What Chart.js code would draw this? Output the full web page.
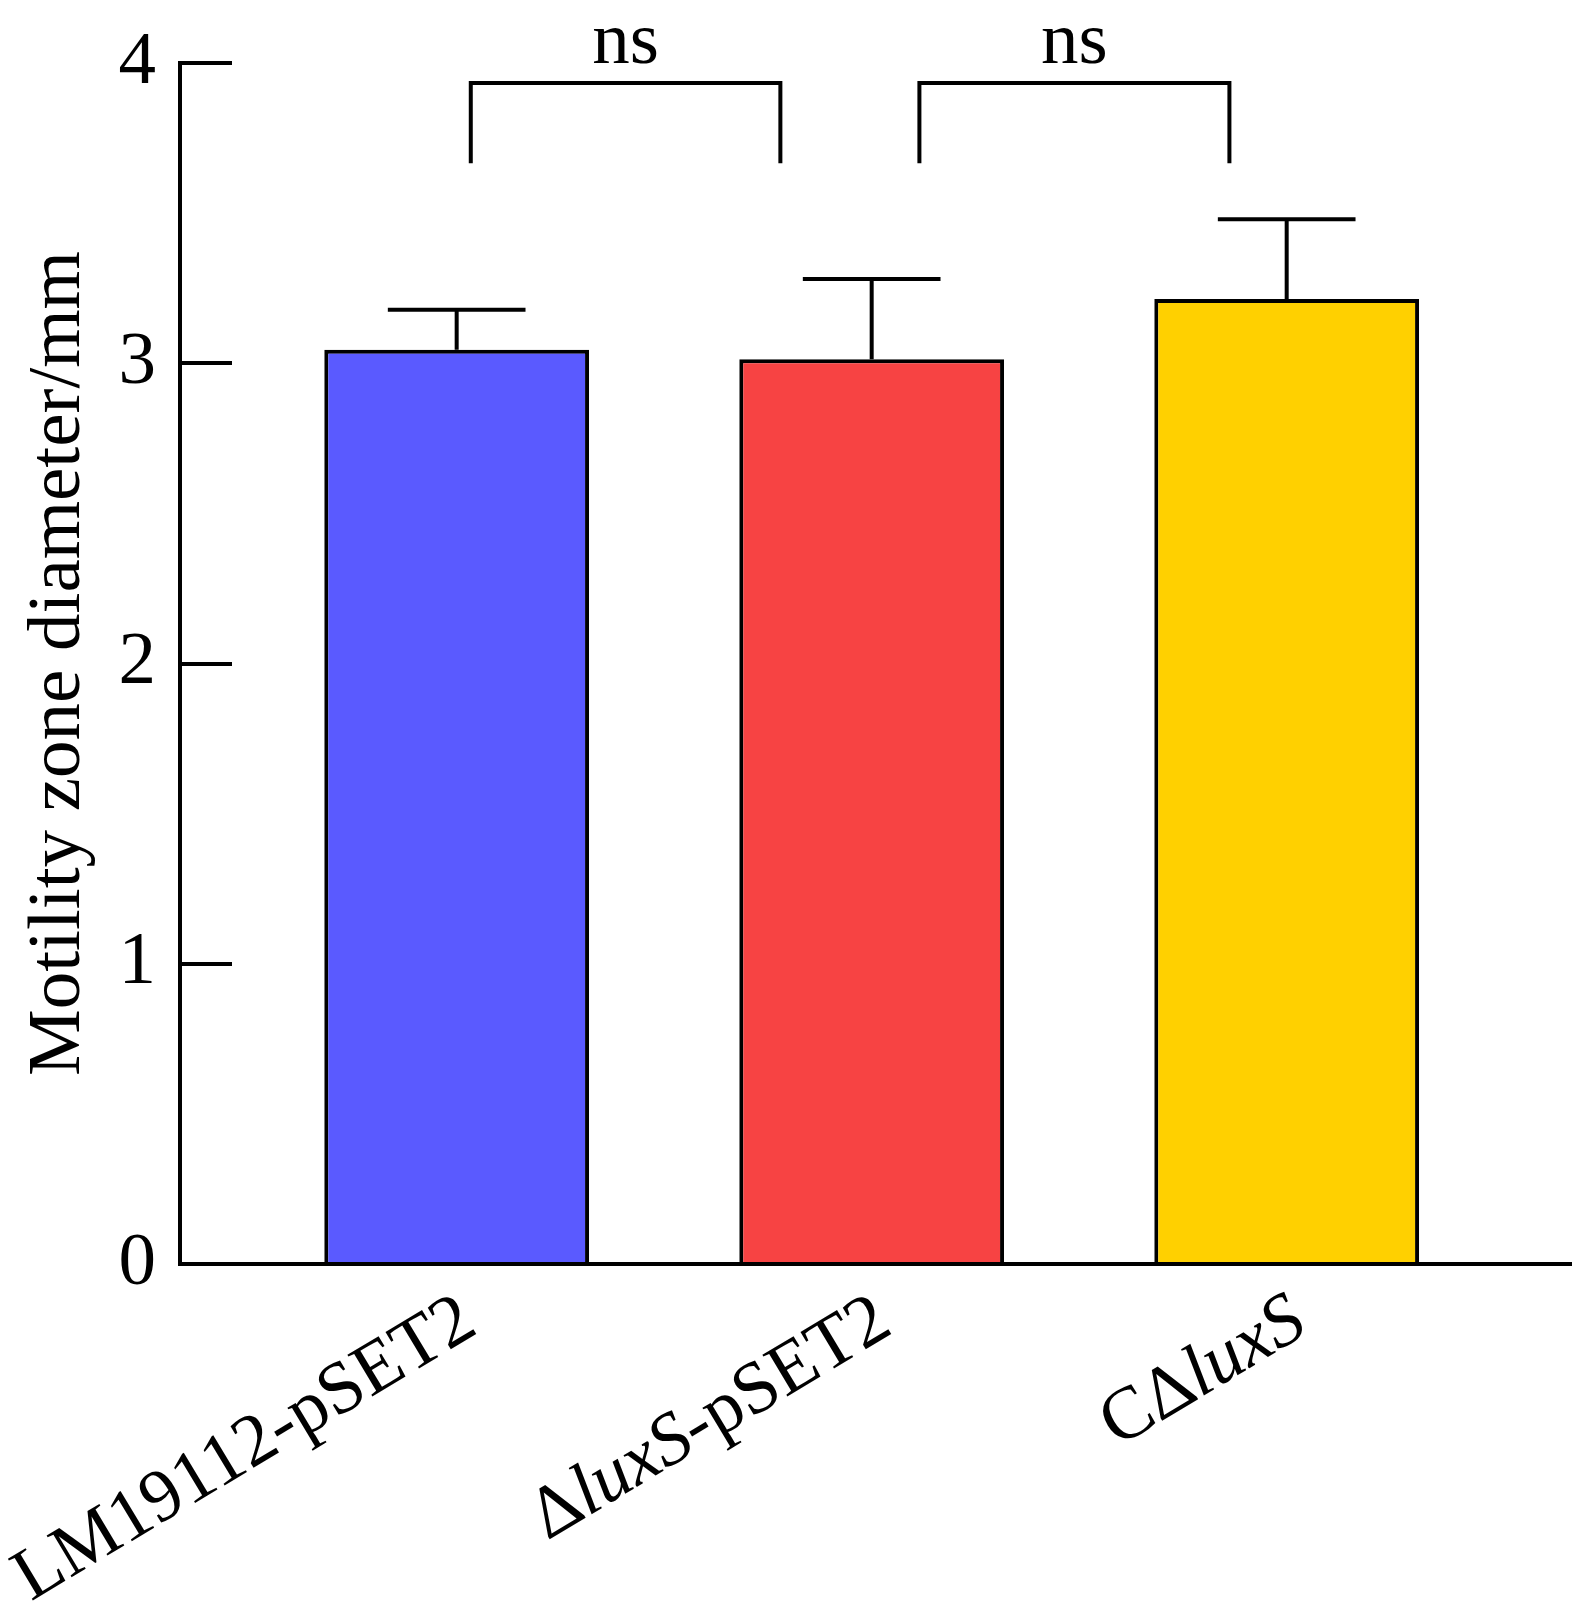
<!DOCTYPE html>
<html>
<head>
<meta charset="utf-8">
<script src="https://cdn.jsdelivr.net/npm/chart.js@4.4.1/dist/chart.umd.min.js"></script>
<style>
    html, body { margin: 0; padding: 0; background: #fff; }
    #wrapper { width: 1572px; height: 1624px; position: relative; }
</style>
</head>
<body>
<div id="wrapper"><canvas id="grafico"></canvas></div>
<script>
"use strict";
// dati
const categories = ["LM19112-pSET2", "ΔluxS-pSET2", "CΔluxS"];
const italicWords = ["luxS"];
const means = [3.045, 3.013, 3.214];
const sd = [0.133, 0.268, 0.266];
const barColors = ["#5A5AFF", "#F74343", "#FFD000"];
const yTitle = "Motility zone diameter/mm";
// parentesi di significativita' (in unita' dell'asse x)
const bracketFrom = [1.034, 2.115];
const bracketTo = [1.780, 2.862];
const bracketText = ["ns", "ns"];
const bracketTop = 3.933;
const bracketLeg = 3.666;

const FONT = "'Liberation Serif', 'Times New Roman', serif";

function splitItalic(label) {
    let re = new RegExp("(" + italicWords.join("|") + ")");
    return label.split(re).filter(s => s.length > 0).map(s => ({ t: s, it: italicWords.includes(s) }));
}

const extras = {
    id: "extras",
    afterDraw(chart) {
        const ctx = chart.ctx;
        const xs = chart.scales.x;
        const ys = chart.scales.y;
        const meta = chart.getDatasetMeta(0);
        ctx.save();
        ctx.strokeStyle = "#000";
        ctx.fillStyle = "#000";
        ctx.lineWidth = 4;
        // barre di errore
        meta.data.forEach(function(bar, i) {
            let top = ys.getPixelForValue(means[i] + sd[i]);
            let half = bar.width * 0.26;
            ctx.beginPath();
            ctx.moveTo(bar.x, bar.y);
            ctx.lineTo(bar.x, top);
            ctx.moveTo(bar.x - half, top);
            ctx.lineTo(bar.x + half, top);
            ctx.stroke();
        });
        // parentesi + "ns"
        for (let k = 0; k < bracketFrom.length; k++) {
            let x1 = xs.getPixelForValue(bracketFrom[k]);
            let x2 = xs.getPixelForValue(bracketTo[k]);
            let yT = ys.getPixelForValue(bracketTop);
            let yL = ys.getPixelForValue(bracketLeg);
            ctx.beginPath();
            ctx.moveTo(x1, yL);
            ctx.lineTo(x1, yT);
            ctx.lineTo(x2, yT);
            ctx.lineTo(x2, yL);
            ctx.stroke();
            ctx.font = "75px " + FONT;
            ctx.textAlign = "center";
            ctx.textBaseline = "alphabetic";
            ctx.fillText(bracketText[k], (x1 + x2) / 2, yT - 20);
        }
        // etichette asse x ruotate (luxS in corsivo)
        categories.forEach(function(lab, i) {
            let cx = xs.getPixelForValue(i + 1);
            ctx.save();
            ctx.translate(cx + 23, xs.top + 68);
            ctx.rotate(-31 * Math.PI / 180);
            let parts = splitItalic(lab);
            let total = 0;
            parts.forEach(function(p) {
                ctx.font = (p.it ? "italic " : "") + "74px " + FONT;
                p.w = ctx.measureText(p.t).width;
                total += p.w;
            });
            let x = -total;
            ctx.textAlign = "left";
            ctx.textBaseline = "alphabetic";
            parts.forEach(function(p) {
                ctx.font = (p.it ? "italic " : "") + "74px " + FONT;
                ctx.fillText(p.t, x, 0);
                x += p.w;
            });
            ctx.restore();
        });
        ctx.restore();
    }
};

let chart = new Chart(document.getElementById("grafico"), {
    type: "bar",
    data: {
        datasets: [{
            data: means.map((m, i) => ({ x: i + 1, y: m })),
            backgroundColor: barColors,
            borderColor: "#000",
            borderWidth: 4,
            categoryPercentage: 1,
            barPercentage: 0.638
        }]
    },
    options: {
        responsive: true,
        maintainAspectRatio: false,
        devicePixelRatio: 1,
        animation: false,
        layout: { padding: { top: 63, left: 0, right: 0, bottom: 0 }, autoPadding: false },
        plugins: { legend: { display: false }, tooltip: { enabled: false } },
        scales: {
            x: {
                type: "linear",
                min: 1 / 3,
                max: 3.6875,
                offset: false,
                grid: { display: false },
                ticks: { display: false },
                border: { display: true, color: "#000", width: 4 },
                // solo un tick per categoria (serve anche per la larghezza delle barre)
                afterBuildTicks: function(s) {
                    s.ticks = categories.map((c, i) => ({ value: i + 1 }));
                },
                afterFit: function(s) {
                    s.height = 360;
                    s.paddingLeft = 0;
                    s.paddingRight = 0;
                }
            },
            y: {
                min: 0,
                max: 4,
                ticks: { stepSize: 1, color: "#000", padding: 76, font: { family: FONT, size: 75 } },
                grid: { display: true, drawOnChartArea: false, drawTicks: true, tickLength: -52, color: "#000", lineWidth: 4 },
                border: { display: true, color: "#000", width: 4 },
                title: {
                    display: true,
                    text: yTitle,
                    color: "#000",
                    font: { family: FONT, size: 75 },
                    padding: { top: 14, bottom: 0 }
                },
                afterFit: function(s) {
                    s.width = 180;
                    s.paddingTop = 0;
                    s.paddingBottom = 0;
                }
            }
        }
    },
    plugins: [extras]
});
</script>
</body>
</html>
